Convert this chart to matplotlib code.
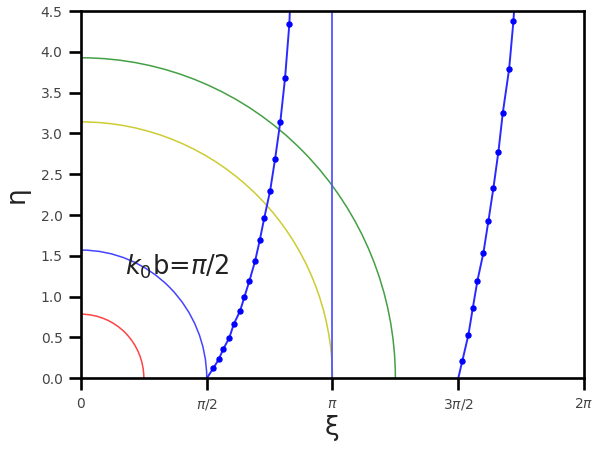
import numpy as np
import matplotlib
matplotlib.use("Agg")
import matplotlib.pyplot as plt
from matplotlib.patches import Arc

# circle radii (k0 b values) and colours
radii = [np.pi / 4, np.pi / 2, np.pi, 5 * np.pi / 4]
radius_colors = ['#ff4444', '#4444ff', '#cccc33', '#44a044']

# branch 1 (dots)
xi1 = [1.653, 1.721, 1.778, 1.853, 1.908, 1.987, 2.041, 2.103, 2.174, 2.233,
       2.290, 2.362, 2.424, 2.490, 2.549, 2.603]
eta1 = [0.123, 0.233, 0.359, 0.497, 0.662, 0.825, 0.996, 1.192, 1.433, 1.691,
        1.968, 2.295, 2.683, 3.144, 3.679, 4.345]
# branch 2
xi2 = [4.764, 4.839, 4.894, 4.952, 5.027, 5.089, 5.152, 5.214, 5.269, 5.348, 5.402]
eta2 = [0.216, 0.531, 0.861, 1.196, 1.539, 1.927, 2.335, 2.776, 3.254, 3.790, 4.381]
# line start / end (beyond top) points
line1_start = (np.pi / 2, 0.0)
line1_end = (2.612, 4.6)
line2_start = (3 * np.pi / 2, 0.0)
line2_end = (5.415, 4.6)

asymptote = np.pi

xticks = [0, np.pi / 2, np.pi, 3 * np.pi / 2, 2 * np.pi]
xticklabels = ['0', r'$\pi/2$', r'$\pi$', r'$3\pi/2$', r'$2\pi$']
yticks = [0.0, 0.5, 1.0, 1.5, 2.0, 2.5, 3.0, 3.5, 4.0, 4.5]

fig = plt.figure(figsize=(5.92, 4.55), dpi=100)
ax = fig.add_axes([0.1368, 0.1686, 0.8497, 0.8072])

for r, c in zip(radii, radius_colors):
    ax.add_patch(Arc((0, 0), 2 * r, 2 * r, theta1=0, theta2=90, color=c, lw=1.1))

lx1 = [line1_start[0]] + xi1 + [line1_end[0]]
ly1 = [line1_start[1]] + eta1 + [line1_end[1]]
lx2 = [line2_start[0]] + xi2 + [line2_end[0]]
ly2 = [line2_start[1]] + eta2 + [line2_end[1]]
ax.plot(lx1, ly1, color='#2a2aff', lw=1.4)
ax.plot(lx2, ly2, color='#2a2aff', lw=1.4)
ax.plot(xi1, eta1, 'o', color='#0000ff', ms=3.6)
ax.plot(xi2, eta2, 'o', color='#0000ff', ms=3.6)
ax.axvline(asymptote, color='#5555ff', lw=1.3)

ax.text(0.55, 1.27, r'$k_0$b=$\pi$/2', fontsize=18.5, color='#222222', va='baseline')

ax.set_xlim(0, 2 * np.pi)
ax.set_ylim(0, 4.5)
ax.set_xticks(xticks)
ax.set_xticklabels(xticklabels)
ax.set_yticks(yticks)
ax.tick_params(axis='both', which='major', length=8.3, width=1.9, labelsize=10,
               labelcolor='#444444', direction='out', pad=5)
for s in ax.spines.values():
    s.set_linewidth(1.9)
ax.set_xlabel('ξ', fontsize=19, color='#222222', labelpad=2)
ax.set_ylabel('η', fontsize=19, color='#222222', labelpad=8)

fig.savefig('out.png', dpi=100)
